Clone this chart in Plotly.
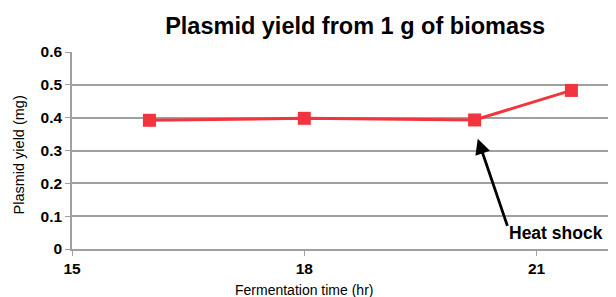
import plotly.graph_objects as go

time_hr = [16, 18, 20.2, 21.45]
yield_mg = [0.392, 0.398, 0.393, 0.483]
x_ticks = [15, 18, 21]
y_ticks = [0, 0.1, 0.2, 0.3, 0.4, 0.5, 0.6]
y_tick_labels = ["0", "0.1", "0.2", "0.3", "0.4", "0.5", "0.6"]

red = "#F2343F"
grid = "#A0A0A0"
font_family = "Liberation Sans, Arial, sans-serif"

fig = go.Figure()
fig.add_trace(go.Scatter(
    x=time_hr, y=yield_mg, mode="lines+markers",
    line=dict(color=red, width=3),
    marker=dict(symbol="square", size=13, color=red),
    showlegend=False,
))

# arrow pointing at the heat-shock point
fig.add_annotation(
    x=20.24, y=0.336, ax=20.63, ay=0.066,
    xref="x", yref="y", axref="x", ayref="y",
    showarrow=True, arrowhead=2, arrowsize=1.1, arrowwidth=2.8, arrowcolor="black",
    text="",
)
fig.add_annotation(
    x=20.62, y=0.05, xref="x", yref="y", xanchor="left", yanchor="middle",
    text="<b>Heat shock</b>", showarrow=False,
    font=dict(family=font_family, size=17.5, color="black"),
)
# axis titles
fig.add_annotation(
    x=18, y=0, xref="x", yref="paper", xanchor="center", yanchor="middle",
    yshift=-41, text="Fermentation time (hr)", showarrow=False,
    font=dict(family=font_family, size=14, color="black"),
)
fig.add_annotation(
    x=0, y=0.5, xref="paper", yref="paper", xanchor="center", yanchor="middle",
    xshift=-54, yshift=-5, textangle=-90, text="Plasmid yield (mg)", showarrow=False,
    font=dict(family=font_family, size=14.5, color="black"),
)

fig.update_layout(
    width=608, height=289,
    margin=dict(l=64, r=2, t=44, b=48),
    paper_bgcolor="white", plot_bgcolor="white",
    font=dict(family=font_family, color="black"),
    title=dict(text="<b>Plasmid yield from 1 g of biomass</b>", x=0.571, xanchor="center",
               y=0.938, yanchor="middle", font=dict(size=23.5, family=font_family, color="black")),
)
fig.update_xaxes(
    range=[15, 22], tickvals=x_ticks, ticktext=[f"<b>{v}</b>" for v in x_ticks],
    showgrid=False, zeroline=False, showline=True, linecolor=grid, linewidth=1.5,
    ticks="outside", ticklen=5, tickcolor=grid,
    tickfont=dict(size=15.5, family=font_family),
)
fig.update_yaxes(
    range=[0, 0.6], tickvals=y_ticks, ticktext=[f"<b>{t}</b>" for t in y_tick_labels],
    showgrid=True, gridcolor=grid, gridwidth=1.5, zeroline=False,
    showline=True, linecolor=grid, linewidth=1.5,
    ticks="outside", ticklen=5, tickcolor=grid,
    tickfont=dict(size=15.5, family=font_family),
)

fig.write_html("out.html")
